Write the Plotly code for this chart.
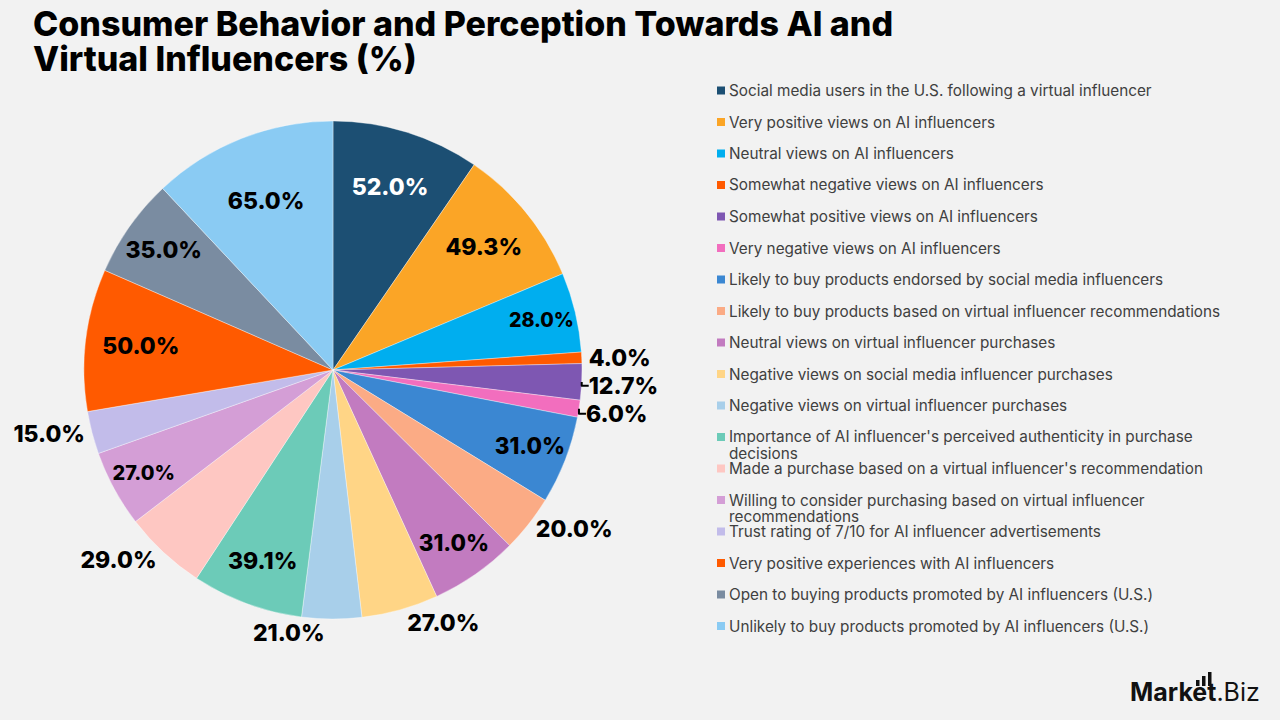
import textwrap
import plotly.graph_objects as go

labels = [
    "Social media users in the U.S. following a virtual influencer",
    "Very positive views on AI influencers",
    "Neutral views on AI influencers",
    "Somewhat negative views on AI influencers",
    "Somewhat positive views on AI influencers",
    "Very negative views on AI influencers",
    "Likely to buy products endorsed by social media influencers",
    "Likely to buy products based on virtual influencer recommendations",
    "Neutral views on virtual influencer purchases",
    "Negative views on social media influencer purchases",
    "Negative views on virtual influencer purchases",
    "Importance of AI influencer's perceived authenticity in purchase decisions",
    "Made a purchase based on a virtual influencer's recommendation",
    "Willing to consider purchasing based on virtual influencer recommendations",
    "Trust rating of 7/10 for AI influencer advertisements",
    "Very positive experiences with AI influencers",
    "Open to buying products promoted by AI influencers (U.S.)",
    "Unlikely to buy products promoted by AI influencers (U.S.)",
]
values = [52.0, 49.3, 28.0, 4.0, 12.7, 6.0, 31.0, 20.0, 31.0, 27.0,
          21.0, 39.1, 29.0, 27.0, 15.0, 50.0, 35.0, 65.0]
colors = ["#1C4F73", "#FBA526", "#00AEEF", "#FF5A00", "#7E57B2", "#F26EBE",
          "#3B87D2", "#FBAB85", "#C27BC0", "#FFD586", "#A8CFEA", "#6CCBB8",
          "#FEC7C2", "#D49ED6", "#C2BCEA", "#FF5A00", "#7A8CA1", "#8ACBF3"]
text_pos = ["inside", "inside", "inside", "outside", "outside", "outside",
            "inside", "outside", "inside", "outside", "outside", "inside",
            "outside", "inside", "outside", "inside", "inside", "inside"]
inside_colors = ["#ffffff"] + ["#000000"] * (len(values) - 1)
title_lines = ["Consumer Behavior and Perception Towards AI and",
               "Virtual Influencers (%)"]

FONT = "Inter"
W, H = 1280, 720
cx, cy, r = 333, 370, 249

fig = go.Figure()
fig.add_trace(go.Pie(
    labels=labels,
    values=values,
    sort=False,
    direction="clockwise",
    rotation=0,
    marker=dict(colors=colors, line=dict(color="rgba(255,255,255,0.45)", width=0.8)),
    texttemplate="%{value:.1f}%",
    textposition=text_pos,
    insidetextorientation="horizontal",
    insidetextfont=dict(family=FONT, size=23, color=inside_colors, weight=800),
    outsidetextfont=dict(family=FONT, size=23, color="#000000", weight=800),
    domain=dict(x=[(cx - r) / W, (cx + r) / W], y=[(H - cy - r) / H, (H - cy + r) / H]),
    showlegend=False,
    hoverinfo="label+value",
))

# Custom legend
shapes = []
annotations = []
y0 = 90.5
step = 31.5
for i, (lab, col) in enumerate(zip(labels, colors)):
    yc = y0 + step * i
    shapes.append(dict(type="rect", xref="paper", yref="paper",
                       x0=717 / W, x1=725 / W, y0=1 - (yc + 4) / H, y1=1 - (yc - 4) / H,
                       fillcolor=col, line=dict(width=0)))
    for j, line in enumerate(textwrap.wrap(lab, 68)):
        annotations.append(dict(text=line, xref="paper", yref="paper",
                                x=727 / W, y=1 - (yc + 16.5 * j) / H,
                                xanchor="left", yanchor="middle", align="left", showarrow=False,
                                font=dict(family=FONT, size=15.3, color="#404040")))

# Title
for j, line in enumerate(title_lines):
    annotations.append(dict(text=line, xref="paper", yref="paper", x=31 / W, y=1 - (23 + 35 * j) / H,
                            xanchor="left", yanchor="middle", align="left", showarrow=False,
                            font=dict(family=FONT, size=34, color="#000000", weight=800)))

# Logo
annotations.append(dict(text="<b>Market</b>.Biz", xref="paper", yref="paper",
                        x=1128 / W, y=1 - 692 / H, xanchor="left", yanchor="middle",
                        showarrow=False, font=dict(family=FONT, size=25, color="#111111")))
for bx, bt in [(1196, 680), (1202, 676), (1208, 672)]:
    shapes.append(dict(type="rect", xref="paper", yref="paper",
                       x0=bx / W, x1=(bx + 3.5) / W, y0=1 - 686 / H, y1=1 - bt / H,
                       fillcolor="#111111", line=dict(width=0)))

fig.update_layout(
    width=W, height=H,
    margin=dict(l=0, r=0, t=0, b=0),
    paper_bgcolor="#f2f2f2",
    plot_bgcolor="#f2f2f2",
    shapes=shapes,
    annotations=annotations,
    showlegend=False,
)

fig.write_html("out.html")
